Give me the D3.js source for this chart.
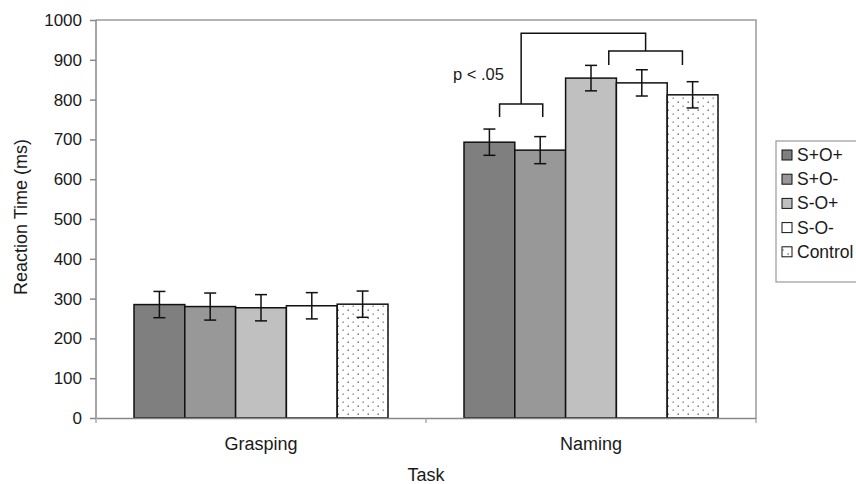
<!DOCTYPE html>
<html>
  <head>
    <meta charset="utf-8">
    <title>Reaction Time</title>
    <script src="https://cdn.jsdelivr.net/npm/d3@7"></script>
    <style>
      body { margin: 0; background: #fff; }
      text { font-family: Arial, "Liberation Sans", sans-serif; fill: #1a1a1a; }
    </style>
  </head>
  <body>
    <svg width="856" height="484" id="mainsvg"></svg>
    <script>
      // data
      const tasks = ['Grasping', 'Naming'];
      const conditions = ['S+O+', 'S+O-', 'S-O+', 'S-O-', 'Control'];
      const grasping = [285, 280, 277, 282, 286];
      const naming = [693, 673, 854, 842, 812];
      const graspingErr = [33, 34, 33, 33, 33];
      const namingErr = [33, 34, 32, 33, 33];
      const yTicks = [0, 100, 200, 300, 400, 500, 600, 700, 800, 900, 1000];
      // significance brackets: [left cond, frac, right cond, frac, y, leg bottom]
      const brackets = [['S+O+', 0.7, 'S+O-', 0.55, 789, 756], ['S-O+', 0.85, 'Control', 0.3, 922, 887]];
      const bracketLinkY = 967;
      const pLabel = 'p < .05';

      const fills = ['#7f7f7f', '#989898', '#c0c0c0', '#ffffff', 'url(#dots)'];

      const svg = d3.select('#mainsvg');
      const margin = {top: 20, right: 100, bottom: 66, left: 96};
      const width = +svg.attr('width');
      const height = +svg.attr('height');
      const plotW = width - margin.left - margin.right;  // 660
      const plotH = height - margin.top - margin.bottom; // 398

      const defs = svg.append('defs');
      const pat = defs.append('pattern').attr('id', 'dots').attr('patternUnits', 'userSpaceOnUse')
        .attr('width', 10).attr('height', 8);
      pat.append('rect').attr('width', 10).attr('height', 8).attr('fill', '#fff');
      pat.append('rect').attr('x', 1.5).attr('y', 1.5).attr('width', 1.4).attr('height', 1.4).attr('fill', '#666');
      pat.append('rect').attr('x', 6.5).attr('y', 5.5).attr('width', 1.4).attr('height', 1.4).attr('fill', '#888');

      const g = svg.append('g').attr('transform', `translate(${margin.left},${margin.top})`);

      const x0 = d3.scaleBand().domain(tasks).range([0, plotW]);
      const x1 = d3.scaleBand().domain(conditions).range([38, x0.bandwidth() - 38]);
      const y = d3.scaleLinear().domain([0, 1000]).range([plotH, 0]);

      // frame (top/right)
      g.append('path').attr('d', `M0,0H${plotW}V${plotH}`).attr('fill', 'none')
        .attr('stroke', '#9a9a9a').attr('stroke-width', 1.5);

      const rows = tasks.map((t, i) => conditions.map((c, j) => ({
        task: t, cond: c, j: j,
        v: i === 0 ? grasping[j] : naming[j],
        e: i === 0 ? graspingErr[j] : namingErr[j]
      }))).flat();

      g.selectAll('rect.bar').data(rows).join('rect').attr('class', 'bar')
        .attr('x', d => x0(d.task) + x1(d.cond))
        .attr('y', d => y(d.v))
        .attr('width', x1.bandwidth())
        .attr('height', d => y(0) - y(d.v))
        .attr('fill', d => fills[d.j])
        .attr('stroke', '#111').attr('stroke-width', 1.5);

      // error bars
      const eb = g.selectAll('g.err').data(rows).join('g').attr('class', 'err')
        .attr('transform', d => `translate(${x0(d.task) + x1(d.cond) + x1.bandwidth() / 2},0)`)
        .attr('stroke', '#111').attr('stroke-width', 1.5);
      eb.append('line').attr('y1', d => y(d.v + d.e)).attr('y2', d => y(d.v - d.e));
      eb.append('line').attr('x1', -6).attr('x2', 6).attr('y1', d => y(d.v + d.e)).attr('y2', d => y(d.v + d.e));
      eb.append('line').attr('x1', -6).attr('x2', 6).attr('y1', d => y(d.v - d.e)).attr('y2', d => y(d.v - d.e));

      // axes
      const yAxis = g.append('g').call(d3.axisLeft(y).tickValues(yTicks).tickFormat(d3.format('d'))
        .tickSize(6).tickPadding(8));
      yAxis.selectAll('path, line').attr('stroke', '#888').attr('stroke-width', 1.5);
      yAxis.select('.domain').attr('d', `M0,${plotH}V0`);
      yAxis.selectAll('text').attr('font-size', 17).attr('fill', '#1a1a1a')
        .style('font-family', 'Arial, "Liberation Sans", sans-serif');

      const xAxis = g.append('g').attr('transform', `translate(0,${plotH})`)
        .call(d3.axisBottom(x0).tickValues([]).tickSizeOuter(0));
      xAxis.select('.domain').attr('stroke', '#888').attr('stroke-width', 1.5);
      xAxis.selectAll('line.sep').data([0, x0.bandwidth(), plotW]).join('line').attr('class', 'sep')
        .attr('x1', d => d).attr('x2', d => d).attr('y1', 0).attr('y2', 5)
        .attr('stroke', '#999').attr('stroke-width', 1.2);
      xAxis.selectAll('text.cat').data(tasks).join('text').attr('class', 'cat')
        .attr('x', d => x0(d) + x0.bandwidth() / 2).attr('y', 32)
        .attr('text-anchor', 'middle').attr('font-size', 18).text(d => d);

      // titles
      svg.append('text').attr('transform', `translate(27,${margin.top + plotH / 2 - 2}) rotate(-90)`)
        .attr('text-anchor', 'middle').attr('font-size', 18).text('Reaction Time (ms)');
      svg.append('text').attr('x', margin.left + plotW / 2).attr('y', 481)
        .attr('text-anchor', 'middle').attr('font-size', 18).text('Task');

      // significance brackets
      const bx = (c, f) => x0('Naming') + x1(c) + f * x1.bandwidth();
      const bg = g.append('g').attr('fill', 'none').attr('stroke', '#111').attr('stroke-width', 1.5);
      const mids = [];
      brackets.forEach(b => {
        const l = bx(b[0], b[1]), r = bx(b[2], b[3]);
        mids.push((l + r) / 2);
        bg.append('path').attr('d', `M${l},${y(b[5])}V${y(b[4])}H${r}V${y(b[5])}`);
      });
      bg.append('path').attr('d',
        `M${mids[0]},${y(brackets[0][4])}V${y(bracketLinkY)}H${mids[1]}V${y(brackets[1][4])}`);
      g.append('text').attr('x', bx('S+O+', 0) - 11).attr('y', y(850))
        .attr('font-size', 16.5).text(pLabel);

      // legend
      const lg = svg.append('g').attr('transform', 'translate(776,141)');
      lg.append('rect').attr('width', 100).attr('height', 141).attr('fill', '#fff')
        .attr('stroke', '#999').attr('stroke-width', 1.2);
      const li = lg.selectAll('g.item').data(conditions).join('g').attr('class', 'item')
        .attr('transform', (d, i) => `translate(0,${14 + i * 24.2})`);
      li.append('rect').attr('x', 6).attr('y', -5).attr('width', 10).attr('height', 10)
        .attr('fill', (d, i) => fills[i]).attr('stroke', '#111').attr('stroke-width', 1);
      li.append('text').attr('x', 21).attr('y', 6).attr('font-size', 17.5).text(d => d);
    </script>
  </body>
</html>
